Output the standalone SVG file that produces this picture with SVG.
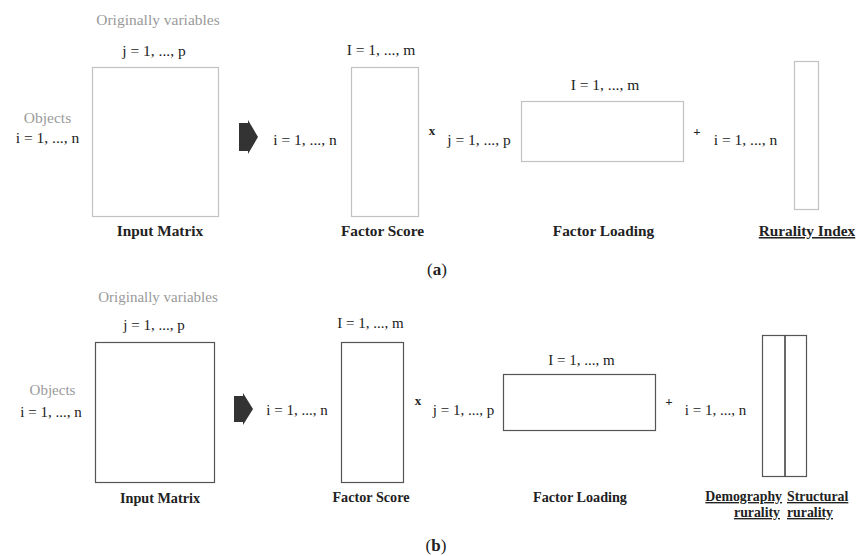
<svg xmlns="http://www.w3.org/2000/svg" width="859" height="556" viewBox="0 0 859 556">
<style>
text{font-family:"Liberation Serif","DejaVu Serif",serif;fill:#222;text-anchor:middle}
.a{font-size:15.5px}
.b{font-size:15px}
.g{fill:#9a9a9a}
.bd{font-weight:bold}
.la{font-size:15.3px;font-weight:bold}
.lb{font-size:14.2px;font-weight:bold}
.lr{font-size:13.8px;font-weight:bold}
.u{text-decoration:underline}
.op{font-size:13px;font-weight:bold}
.ma{fill:#fff;stroke:#c2c2c2;stroke-width:1.2}
.mb{fill:#fff;stroke:#555;stroke-width:1.2}
.arr{fill:#333}
</style>
<g id="panel-a">
<g id="a-input-matrix">
<text class="a g" x="158" y="25">Originally variables</text>
<text class="a" x="154" y="56">j = 1, ..., p</text>
<text class="a g" x="47.5" y="123">Objects</text>
<text class="a" x="47.5" y="143">i = 1, ..., n</text>
<rect class="ma" x="92.5" y="67.5" width="126" height="149"/>
<text class="la" x="160" y="236">Input Matrix</text>
</g>
<g id="a-arrow"><polygon class="arr" points="239,123 248,123 248,120 258,137 248,154 248,151 239,151"/></g>
<g id="a-factor-score">
<text class="a" x="305" y="145">i = 1, ..., n</text>
<text class="a" x="381" y="55">I = 1, ..., m</text>
<rect class="ma" x="351.5" y="67.5" width="67" height="149"/>
<text class="la" x="382.5" y="236">Factor Score</text>
</g>
<text class="op" x="432" y="135">x</text>
<g id="a-factor-loading">
<text class="a" x="479" y="145">j = 1, ..., p</text>
<text class="a" x="605" y="90">I = 1, ..., m</text>
<rect class="ma" x="521.5" y="101.5" width="162" height="60"/>
<text class="la" x="603.5" y="236">Factor Loading</text>
</g>
<text class="op" x="697" y="136">+</text>
<g id="a-rurality-index">
<text class="a" x="745.5" y="145">i = 1, ..., n</text>
<rect class="ma" x="794.5" y="61.5" width="24" height="148"/>
<text class="la u" x="807" y="236">Rurality Index</text>
</g>
<text x="437" y="275" style="font-size:17px">(<tspan class="bd">a</tspan>)</text>
</g>
<g id="panel-b">
<g id="b-input-matrix">
<text class="b g" x="158" y="302">Originally variables</text>
<text class="b" x="154" y="330">j = 1, ..., p</text>
<text class="b g" x="52.5" y="395">Objects</text>
<text class="b" x="51" y="417">i = 1, ..., n</text>
<rect class="mb" x="95.5" y="342.5" width="119" height="140"/>
<text class="lb" x="160" y="503">Input Matrix</text>
</g>
<g id="b-arrow"><polygon class="arr" points="234,396 243,396 243,393 253,409 243,425 243,422 234,422"/></g>
<g id="b-factor-score">
<text class="b" x="297" y="415">i = 1, ..., n</text>
<text class="b" x="370.5" y="328">I = 1, ..., m</text>
<rect class="mb" x="341.5" y="342.5" width="62" height="140"/>
<text class="lb" x="371" y="502">Factor Score</text>
</g>
<text class="op" x="418" y="405">x</text>
<g id="b-factor-loading">
<text class="b" x="463.5" y="415">j = 1, ..., p</text>
<text class="b" x="581.5" y="365">I = 1, ..., m</text>
<rect class="mb" x="503.5" y="374.5" width="152" height="56"/>
<text class="lb" x="580" y="502">Factor Loading</text>
</g>
<text class="op" x="669" y="406">+</text>
<g id="b-rurality">
<text class="b" x="715.5" y="415">i = 1, ..., n</text>
<rect class="mb" x="762.5" y="335.5" width="44" height="141"/>
<line x1="785" y1="335.5" x2="785" y2="476.5" stroke="#444" stroke-width="1.6"/>
<text class="lr u" x="782" y="501" style="text-anchor:end">Demography</text>
<text class="lr u" x="780" y="517" style="text-anchor:end">rurality</text>
<text class="lr u" x="787" y="501" style="text-anchor:start">Structural</text>
<text class="lr u" x="787" y="517" style="text-anchor:start">rurality</text>
</g>
<text x="436" y="551" style="font-size:17px">(<tspan class="bd">b</tspan>)</text>
</g>
</svg>
